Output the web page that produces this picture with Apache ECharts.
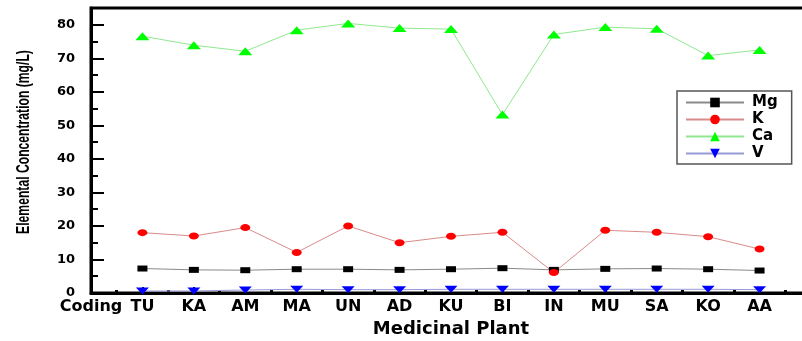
<!DOCTYPE html>
<html>
<head>
<meta charset="utf-8">
<script src="https://cdn.jsdelivr.net/npm/echarts@6/dist/echarts.min.js"></script>
<style>
html,body{margin:0;padding:0;background:#fff;}
#chart{width:802px;height:341px;}
</style>
</head>
<body>
<div id="chart"></div>
<script>
// Tick labels along the x axis (position 0 is "Coding")
const categories = ['Coding','TU','KA','AM','MA','UN','AD','KU','BI','IN','MU','SA','KO','AA'];
// Plants (positions 1..13)
const plants = ['TU','KA','AM','MA','UN','AD','KU','BI','IN','MU','SA','KO','AA'];
const mg = [7.3, 6.9, 6.8, 7.1, 7.1, 6.9, 7.1, 7.4, 6.9, 7.2, 7.3, 7.1, 6.7];
const k  = [18.0, 17.0, 19.5, 12.1, 20.0, 15.0, 16.9, 18.1, 6.1, 18.7, 18.1, 16.8, 13.1];
const ca = [76.6, 73.9, 72.1, 78.4, 80.4, 79.0, 78.7, 53.2, 77.1, 79.3, 78.8, 70.8, 72.5];
const v  = [0.6, 0.6, 0.9, 1.1, 1.0, 1.0, 1.1, 1.1, 1.1, 1.1, 1.1, 1.1, 1.0];
const yTicks = [0, 10, 20, 30, 40, 50, 60, 70, 80];

function pts(arr){ return arr.map((val,i)=>[categories.indexOf(plants[i]), val]); }

const chart = echarts.init(document.getElementById('chart'), null, {renderer:'canvas'});
const boldFont = '"DejaVu Sans", Arial, sans-serif';
chart.setOption({
  animation:false,
  backgroundColor:'#fff',
  grid:{left:91, top:8, width:720, height:285, outerBoundsMode:'none', containLabel:false,
        show:true, borderColor:'#000', borderWidth:3, backgroundColor:'transparent'},
  xAxis:[{
    type:'value', min:0, max:14, interval:1,
    axisLine:{show:true, lineStyle:{color:'#000', width:3}},
    axisTick:{show:true, inside:true, length:6, lineStyle:{color:'#000', width:2}},
    minorTick:{show:true, splitNumber:2, length:3, lineStyle:{color:'#000', width:3}},
    splitLine:{show:false}, minorSplitLine:{show:false},
    axisLabel:{margin:6, color:'#000', fontFamily:boldFont, fontWeight:'bold', fontSize:16,
      formatter:function(val){ const i=Math.round(val); return (Math.abs(val-i)<1e-6 && categories[i]) ? categories[i] : ''; }},
    name:'Medicinal Plant', nameLocation:'middle', nameGap:19,
    nameTextStyle:{color:'#000', fontFamily:boldFont, fontWeight:'bold', fontSize:18}
  }],
  yAxis:[{
    type:'value', min:0, max:85, interval:10,
    axisLine:{show:true, lineStyle:{color:'#000', width:3}},
    axisTick:{show:true, inside:true, length:13, lineStyle:{color:'#000', width:2}},
    splitLine:{show:false},
    axisLabel:{margin:16, color:'#000', fontFamily:boldFont, fontWeight:'bold', fontSize:13,
      formatter:function(val){ return yTicks.indexOf(val)>=0 ? String(val) : ''; }}
  },{
    type:'value', min:0, max:85, interval:5, position:'left',
    axisLine:{show:false},
    axisTick:{show:true, inside:true, length:7, lineStyle:{color:'#000', width:2}},
    axisLabel:{show:false}, splitLine:{show:false}
  }],
  legend:{
    orient:'vertical', left:677, top:91,
    itemWidth:58, itemHeight:12, itemGap:2,
    padding:[4,14,3,8],
    borderColor:'#555', borderWidth:1.5, backgroundColor:'#fff',
    textStyle:{color:'#000', fontFamily:boldFont, fontWeight:'bold', fontSize:15, padding:[0,0,0,3]},
    data:['Mg','K','Ca','V']
  },
  graphic:[{
    type:'text', x:24, y:142, rotation:Math.PI/2, scaleX:0.76, scaleY:1.1,
    style:{text:'Elemental Concentration (mg/L)', fill:'#000',
      font:'bold 16px "Liberation Sans", Arial, sans-serif',
      align:'center', verticalAlign:'middle'}
  }],
  series:[
    {name:'Mg', type:'line', data:pts(mg), symbol:'rect', symbolSize:[10,6],
     itemStyle:{color:'#000'}, lineStyle:{color:'#8a8a8a', width:1}},
    {name:'K', type:'line', data:pts(k), symbol:'circle', symbolSize:[10,7],
     itemStyle:{color:'#ff0000'}, lineStyle:{color:'#d98a8a', width:1}},
    {name:'Ca', type:'line', data:pts(ca), symbol:'triangle', symbolSize:[14,8],
     itemStyle:{color:'#00ff00'}, lineStyle:{color:'#90e890', width:1}},
    {name:'V', type:'line', data:pts(v), symbol:'triangle', symbolRotate:180, symbolSize:[13,7],
     itemStyle:{color:'#0000ff'}, lineStyle:{color:'#9a9ad8', width:1}}
  ]
});
</script>
</body>
</html>
